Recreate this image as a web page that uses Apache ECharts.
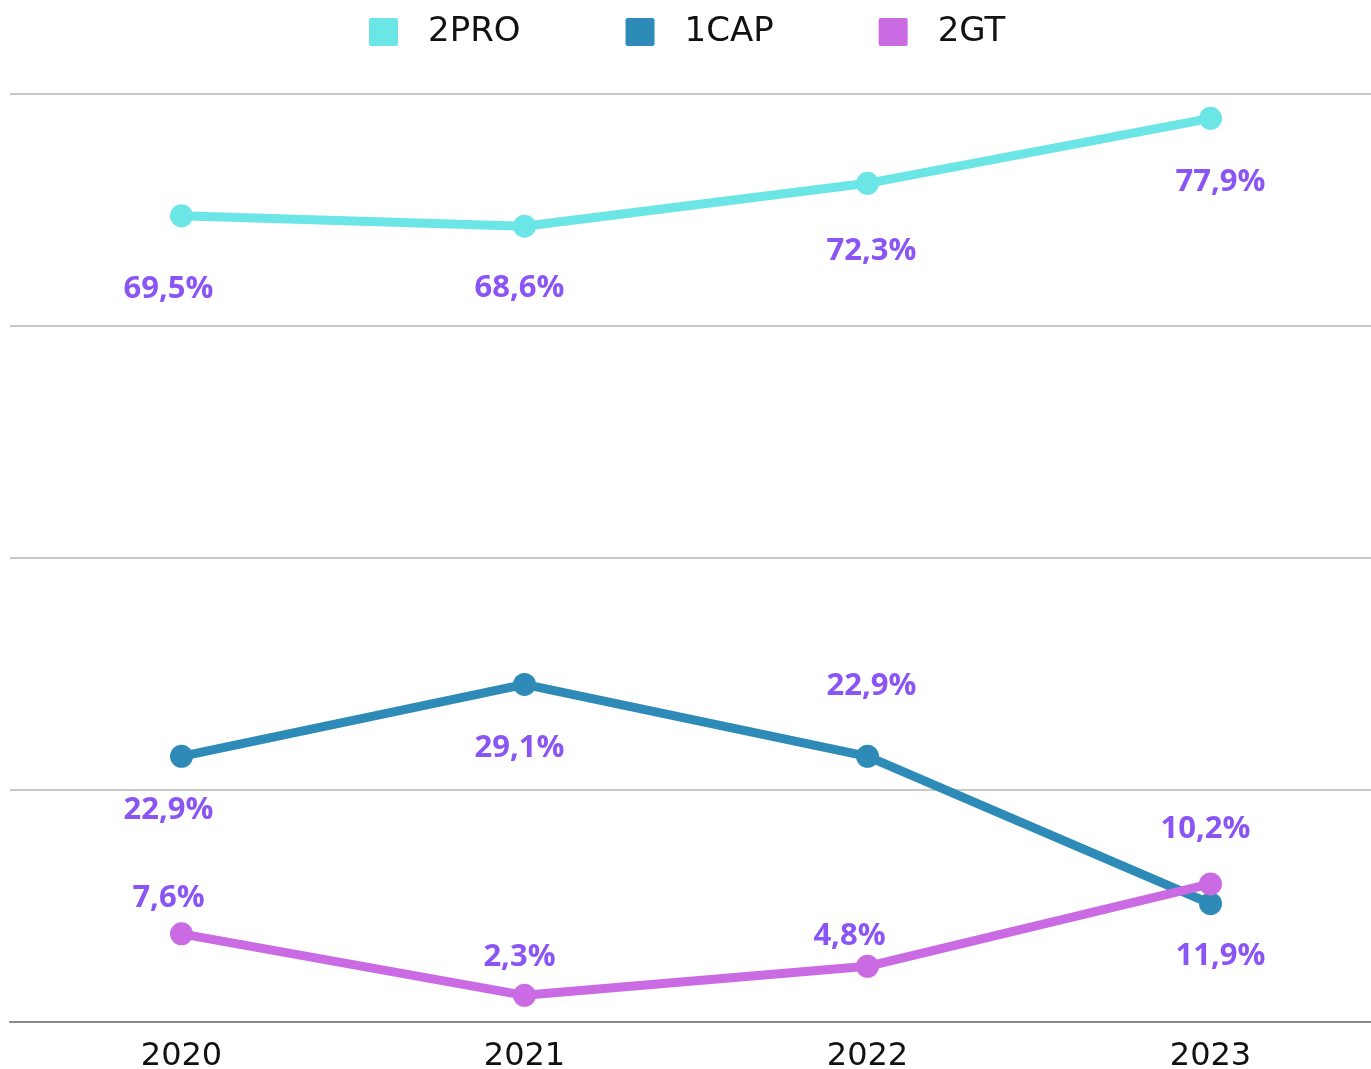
<!DOCTYPE html>
<html>
<head>
<meta charset="utf-8">
<script src="https://cdn.jsdelivr.net/npm/echarts@6/dist/echarts.min.js"></script>
<style>
  html, body { margin: 0; padding: 0; background: #fff; overflow: hidden; }
  #main { width: 1382px; height: 1069px; }
</style>
</head>
<body>
<div id="main"></div>
<script>
// data
var years = ['2020', '2021', '2022', '2023'];
var names = ['2PRO', '1CAP', '2GT'];
var pro2 = [69.5, 68.6, 72.3, 77.9];
var cap1 = [22.9, 29.1, 22.9, 10.2];
var gt2 = [7.6, 2.3, 4.8, 11.9];
var yTicks = [0, 20, 40, 60, 80];

// styling
var colors = ['#6be5e6', '#2e8bb8', '#cb6be4'];
// label offsets (x, y) from each point
var labelOffsets = [
  [[-13, 73], [-5, 62], [4, 68], [10, 64]],
  [[-13, 54], [-5, 64], [4, -70], [-5, -75]],
  [[-13, -36], [-5, -38], [-18, -30], [10, 72]]
];

function fmt(v) {
  return v.toFixed(1).replace('.', ',') + '%';
}

function makeSeries(idx, values) {
  return {
    name: names[idx],
    type: 'line',
    data: values.map(function (v, i) {
      return {
        value: v,
        label: { offset: labelOffsets[idx][i] }
      };
    }),
    symbol: 'circle',
    symbolSize: 23,
    lineStyle: { width: 9, color: colors[idx] },
    itemStyle: { color: colors[idx] },
    label: {
      show: true,
      position: 'inside',
      formatter: function (p) { return fmt(p.value); },
      color: '#8b55f5',
      fontFamily: 'Open Sans',
      fontWeight: 'bold',
      fontSize: 31
    },
    z: 2 + idx
  };
}

var chart = echarts.init(document.getElementById('main'));
chart.setOption({
  backgroundColor: '#ffffff',
  animation: false,
  color: colors,
  legend: {
    data: names,
    top: 10,
    left: 364,
    itemWidth: 29,
    itemHeight: 28,
    itemGap: 105,
    icon: 'path://M2,0 L27,0 Q29,0 29,2 L29,26 Q29,28 27,28 L2,28 Q0,28 0,26 L0,2 Q0,0 2,0 Z',
    textStyle: {
      fontFamily: 'DejaVu Sans',
      fontSize: 34,
      color: '#111',
      padding: [0, 0, 0, 25]
    }
  },
  grid: { left: 10, right: 0, top: 94, bottom: 47, containLabel: false, outerBoundsMode: 'none' },
  xAxis: {
    type: 'category',
    data: years,
    boundaryGap: true,
    axisLine: { lineStyle: { color: '#888', width: 2 } },
    axisTick: { show: false },
    axisLabel: {
      fontFamily: 'DejaVu Sans',
      fontSize: 32,
      color: '#111',
      margin: 19
    }
  },
  yAxis: {
    type: 'value',
    min: yTicks[0],
    max: yTicks[yTicks.length - 1],
    interval: yTicks[1] - yTicks[0],
    axisLabel: { show: false },
    axisLine: { show: false },
    axisTick: { show: false },
    splitLine: { lineStyle: { color: '#c8c8c8', width: 2 } }
  },
  series: [
    makeSeries(0, pro2),
    makeSeries(1, cap1),
    makeSeries(2, gt2)
  ]
});
</script>
</body>
</html>
